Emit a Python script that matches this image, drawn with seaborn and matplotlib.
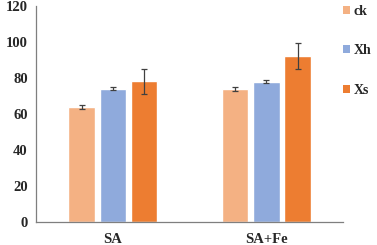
import matplotlib
matplotlib.use("Agg")
import matplotlib.pyplot as plt
import seaborn as sns
import pandas as pd
import numpy as np
from matplotlib.patches import Patch

groups = ["SA", "SA+Fe"]
series = ["ck", "Xh", "Xs"]
ck_vals = [63.9, 74.0]
xh_vals = [74.1, 78.0]
xs_vals = [78.2, 92.0]
ck_err = [1.0, 1.0]
xh_err = [1.0, 1.0]
xs_err = [7.0, 7.2]
colors = ["#F4B183", "#8FAADC", "#ED7D31"]
yticks = [0, 20, 40, 60, 80, 100, 120]

vals = [ck_vals, xh_vals, xs_vals]
errs = [ck_err, xh_err, xs_err]
rows = []
for s, v, e in zip(series, vals, errs):
    for g, vv, ee in zip(groups, v, e):
        rows.append({"group": g, "series": s, "value": vv, "err": ee})
df = pd.DataFrame(rows)

sns.set_style("white")
plt.rcParams["font.family"] = ["Liberation Serif", "DejaVu Serif"]
plt.rcParams["font.weight"] = "bold"

FS = 10.5
fig = plt.figure(figsize=(3.77, 2.45), dpi=100)
ax = fig.add_axes([0.0955, 0.094, 0.815, 0.8815])
sns.barplot(data=df, x="group", y="value", hue="series", palette=colors,
            hue_order=series, order=groups, width=0.61, gap=0.15,
            errorbar=None, ax=ax, legend=False, saturation=1)

# error bars at bar centers
for cont, s in zip(ax.containers, series):
    sub = df[df.series == s].set_index("group").loc[groups]
    xs = [p.get_x() + p.get_width() / 2 for p in cont.patches]
    ax.errorbar(xs, sub["value"].values, yerr=sub["err"].values, fmt="none",
                ecolor="#404040", elinewidth=0.9, capsize=2.5, capthick=0.9)

ax.set_xlim(-0.5, 1.5)
ax.set_ylim(0, 120)
ax.set_yticks(yticks)
ax.set_yticklabels([str(t) for t in yticks], fontsize=FS, fontweight="bold")
ax.set_xticks(range(len(groups)))
ax.set_xticklabels(groups, fontsize=FS, fontweight="bold")
ax.set_xlabel("")
ax.set_ylabel("")
for side in ["top", "right"]:
    ax.spines[side].set_visible(False)
for side in ["left", "bottom"]:
    ax.spines[side].set_color("#7f7f7f")
    ax.spines[side].set_linewidth(0.9)
ax.tick_params(axis="y", direction="out", length=3, width=0.9, color="#7f7f7f", pad=3)
ax.tick_params(axis="x", length=0, pad=8)

handles = [Patch(facecolor=c, edgecolor="none", label=s) for c, s in zip(colors, series)]
leg = fig.legend(handles=handles, loc="upper left", bbox_to_anchor=(0.888, 1.014),
                 frameon=False, handlelength=0.5, handleheight=0.5,
                 handletextpad=0.25, labelspacing=1.9, borderpad=0.1,
                 prop={"family": "Liberation Serif", "weight": "bold", "size": 10})

fig.savefig("out.png", dpi=100)
